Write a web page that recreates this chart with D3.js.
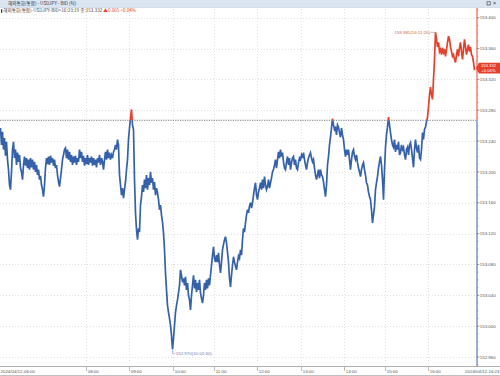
<!DOCTYPE html>
<html>
<head>
<meta charset="utf-8">
<script src="https://cdn.jsdelivr.net/npm/d3@7"></script>
<style>
body{margin:0;background:#fff}
svg{display:block;font-family:"Liberation Sans",Arial,sans-serif}
</style>
</head>
<body>
<svg width="500" height="376"></svg>
<script>
// USDJPY bid, one value per tick bucket (tick chart, 2024/04/12 06:00 - 16:23)
var prices = [
153.257,153.235,153.252,153.229,153.244,153.221,153.239,153.216,153.203,153.183,
153.177,153.200,153.229,153.239,153.218,153.229,153.209,153.225,153.213,153.222,
153.205,153.200,153.190,153.209,153.220,153.208,153.218,153.205,153.216,153.203,
153.218,153.206,153.216,153.203,153.213,153.200,153.209,153.196,153.203,153.190,
153.195,153.183,153.177,153.168,153.183,153.205,153.218,153.210,153.220,153.209,
153.221,153.212,153.218,153.208,153.216,153.205,153.209,153.196,153.187,153.181,
153.192,153.203,153.216,153.222,153.229,153.231,153.218,153.229,153.216,153.226,
153.213,153.222,153.209,153.220,153.212,153.221,153.209,153.218,153.213,153.229,
153.218,153.226,153.213,153.221,153.208,153.218,153.210,153.222,153.209,153.218,
153.212,153.220,153.208,153.218,153.209,153.216,153.206,153.218,153.212,153.222,
153.209,153.218,153.213,153.203,153.216,153.226,153.216,153.229,153.218,153.225,
153.216,153.222,153.218,153.226,153.229,153.235,153.229,153.242,153.235,153.196,
153.183,153.170,153.179,153.166,153.177,153.187,153.203,153.216,153.242,153.257,
153.270,153.281,153.261,153.255,153.190,153.147,153.125,153.112,153.127,153.122,
153.157,153.168,153.183,153.174,153.190,153.179,153.196,153.177,153.192,153.183,
153.200,153.186,153.192,153.177,153.187,153.170,153.179,153.173,153.164,153.151,
153.157,153.144,153.135,153.121,153.099,153.069,153.047,153.027,153.018,153.010,
153.001,152.988,152.970,152.984,153.001,153.018,153.027,153.034,153.043,153.053,
153.073,153.066,153.057,153.062,153.053,153.064,153.047,153.056,153.040,153.034,
153.021,153.040,153.053,153.066,153.049,153.060,153.044,153.056,153.047,153.060,
153.043,153.036,153.030,153.040,153.056,153.047,153.060,153.049,153.062,153.053,
153.066,153.079,153.092,153.103,153.088,153.083,153.092,153.083,153.095,153.079,
153.069,153.083,153.099,153.106,153.112,153.116,153.108,153.096,153.083,153.062,
153.051,153.066,153.079,153.090,153.083,153.078,153.073,153.083,153.091,153.088,
153.099,153.092,153.112,153.127,153.122,153.134,153.144,153.151,153.147,153.156,
153.160,153.153,153.160,153.170,153.179,153.186,153.170,153.164,153.174,153.179,
153.186,153.177,153.190,153.179,153.194,153.183,153.177,153.181,153.190,153.179,
153.186,153.192,153.200,153.203,153.209,153.216,153.205,153.216,153.226,153.218,
153.229,153.220,153.225,153.213,153.205,153.203,153.213,153.220,153.209,153.218,
153.203,153.212,153.218,153.220,153.209,153.216,153.205,153.203,153.212,153.218,
153.216,153.222,153.218,153.225,153.216,153.209,153.203,153.212,153.218,153.222,
153.225,153.218,153.213,153.216,153.205,153.196,153.190,153.196,153.203,153.192,
153.203,153.196,153.194,153.187,153.177,153.168,153.183,153.209,153.220,153.235,
153.245,153.257,153.269,153.261,153.255,153.257,153.248,153.261,153.258,153.251,
153.245,153.257,153.248,153.242,153.229,153.220,153.229,153.222,153.229,153.216,
153.203,153.216,153.226,153.229,153.220,153.216,153.222,153.212,153.205,153.200,
153.194,153.203,153.209,153.212,153.203,153.196,153.186,153.183,153.174,153.168,
153.164,153.151,153.134,153.144,153.155,153.177,153.186,153.194,153.205,153.213,
153.220,153.209,153.190,153.164,153.203,153.232,153.248,153.258,153.271,153.261,
153.251,153.242,153.235,153.232,153.242,153.226,153.235,153.229,153.239,153.222,
153.225,153.235,153.229,153.232,153.222,153.216,153.229,153.232,153.222,153.235,
153.238,153.229,153.218,153.206,153.229,153.242,153.231,153.225,153.235,153.218,
153.216,153.229,153.251,153.242,153.255,153.258,153.265,153.271,153.284,153.300,
153.310,153.300,153.294,153.320,153.346,153.381,153.372,153.362,153.368,153.356,
153.359,153.352,153.361,153.355,153.359,153.350,153.359,153.368,153.376,153.372,
153.362,153.356,153.350,153.352,153.346,153.342,153.352,153.359,153.350,153.361,
153.368,153.356,153.346,153.359,153.372,153.362,153.352,153.359,153.365,153.356,
153.362,153.352,153.350,153.342,153.332
];
var prevClose = 153.267;
var change = "+0.065";
var changePct = "+0.04%";
var yTicks = [152.96,153.00,153.04,153.08,153.12,153.16,153.20,153.24,153.28,153.32,153.36,153.40];
// tick index where each hour starts
var hourIdx = [0,85,128,172,213,256,300,343,385,428];
var hourLabels = ["2024/04/12-06:00","08:00","09:00","10:00","11:00","12:00","13:00","14:00","15:00","16:00"];
var endLabel = "2024/04/12-16:23";
var hiTime = "16:11:20", loTime = "10:02:30";

var svg = d3.select("svg");
var W = 500, H = 376;
var axisX = 477, plotTop = 8, plotBottom = 366;
var blue = "#3461aa", red = "#e4402c";

var x = d3.scaleLinear().domain([0, 474]).range([0.5, 474.5]);
var y = d3.scaleLinear().domain([152.96, 153.40]).range([357, 17.7]);
var fmt = d3.format(".3f");

// header bar
svg.append("rect").attr("x",0).attr("y",0).attr("width",W).attr("height",7)
   .attr("fill","#dbe5f1");
svg.append("line").attr("x1",0).attr("x2",W).attr("y1",7.5).attr("y2",7.5)
   .attr("stroke","#b9c7d9").attr("stroke-width",0.6);
svg.append("text").attr("x",8).attr("y",5.2)
   .style("font-family","'Noto Sans CJK KR',sans-serif").style("font-size","4.6px")
   .attr("fill","#333").text("해외통화(통합) - USDJPY - BID (틱)");
svg.append("rect").attr("x",487).attr("y",1.8).attr("width",3.2).attr("height",3.2)
   .attr("fill","none").attr("stroke","#333").attr("stroke-width",0.6);
svg.append("text").attr("x",493).attr("y",5.4).style("font-size","5.5px")
   .attr("fill","#333").text("×");

// grid
var grid = svg.append("g");
yTicks.forEach(function(t){
    grid.append("line").attr("x1",0).attr("x2",axisX)
        .attr("y1",Math.round(y(t))+0.5).attr("y2",Math.round(y(t))+0.5)
        .attr("stroke","#d3d3d3").attr("stroke-width",0.7).attr("stroke-dasharray","1,2");
});
hourIdx.slice(1).forEach(function(i){
    grid.append("line").attr("x1",Math.round(x(i))+0.5).attr("x2",Math.round(x(i))+0.5)
        .attr("y1",plotTop+1).attr("y2",plotBottom)
        .attr("stroke","#d3d3d3").attr("stroke-width",0.7).attr("stroke-dasharray","1,2");
});

// prev close dotted line
var yRef = y(prevClose);
svg.append("line").attr("x1",0).attr("x2",axisX).attr("y1",yRef).attr("y2",yRef)
   .attr("stroke","#555").attr("stroke-width",0.8).attr("stroke-dasharray","1.2,1.2");

// price line, red above prev close, blue below
var defs = svg.append("defs");
defs.append("clipPath").attr("id","above").append("rect")
    .attr("x",0).attr("y",0).attr("width",axisX).attr("height",yRef);
defs.append("clipPath").attr("id","below").append("rect")
    .attr("x",0).attr("y",yRef).attr("width",axisX).attr("height",plotBottom-yRef);

var line = d3.line().x(function(d,i){return x(i);}).y(function(d){return y(d);});
svg.append("path").datum(prices).attr("d",line).attr("fill","none")
   .attr("stroke",blue).attr("stroke-width",1.7).attr("clip-path","url(#below)");
svg.append("path").datum(prices).attr("d",line).attr("fill","none")
   .attr("stroke",red).attr("stroke-width",1.7).attr("clip-path","url(#above)");

// y axis (right)
svg.append("line").attr("x1",axisX).attr("x2",axisX).attr("y1",plotTop).attr("y2",yRef)
   .attr("stroke",red).attr("stroke-width",1);
svg.append("line").attr("x1",axisX).attr("x2",axisX).attr("y1",yRef).attr("y2",plotBottom)
   .attr("stroke",blue).attr("stroke-width",1);
var ya = svg.append("g");
d3.range(152.95, 153.41, 0.01).forEach(function(t){
    var yy = y(t);
    if (yy < plotTop || yy > plotBottom) return;
    ya.append("line").attr("x1",axisX).attr("x2",axisX+1.5).attr("y1",yy).attr("y2",yy)
      .attr("stroke","#888").attr("stroke-width",0.5);
});
yTicks.forEach(function(t){
    ya.append("line").attr("x1",axisX).attr("x2",axisX+2.5).attr("y1",y(t)).attr("y2",y(t))
      .attr("stroke","#666").attr("stroke-width",0.5);
    ya.append("text").attr("x",axisX+2.8).attr("y",y(t)+1.6)
      .style("font-size","4.4px").attr("fill","#555").text(fmt(t));
});

// current price box
var last = prices[prices.length-1];
var cy = y(last) - 2;
svg.append("path")
   .attr("d","M"+(axisX-1)+","+cy+" L"+(axisX+2)+","+(cy-5.3)+" L"+W+","+(cy-5.3)+
             " L"+W+","+(cy+5.3)+" L"+(axisX+2)+","+(cy+5.3)+" Z")
   .attr("fill",red);
svg.append("text").attr("x",488.5).attr("y",cy-0.8).attr("text-anchor","middle")
   .style("font-size","4.2px").attr("fill","#fff").text(fmt(last));
svg.append("text").attr("x",488.5).attr("y",cy+3.9).attr("text-anchor","middle")
   .style("font-size","4.2px").attr("fill","#fff").text(changePct);

// high / low markers
var hi = d3.maxIndex(prices), lo = d3.minIndex(prices);
svg.append("line").attr("x1",x(hi)-5).attr("x2",x(hi)).attr("y1",y(prices[hi])).attr("y2",y(prices[hi]))
   .attr("stroke","#b86a60").attr("stroke-width",0.5);
svg.append("text").attr("x",x(hi)-5.5).attr("y",y(prices[hi])+1.5).attr("text-anchor","end")
   .style("font-size","4.4px").attr("fill","#b8675c")
   .text(fmt(prices[hi])+"("+hiTime+")");
svg.append("path")
   .attr("d","M"+x(lo)+","+y(prices[lo])+" V"+(y(prices[lo])+4)+" H"+(x(lo)+3))
   .attr("fill","none").attr("stroke","#6a82aa").attr("stroke-width",0.5);
svg.append("text").attr("x",x(lo)+3.3).attr("y",y(prices[lo])+5.5)
   .style("font-size","4.4px").attr("fill","#6a82aa")
   .text(fmt(prices[lo])+"("+loTime+")");

// sub header
svg.append("rect").attr("x",1).attr("y",9.3).attr("width",1.2).attr("height",3.4).attr("fill","#222");
var sub = svg.append("text").attr("x",3.2).attr("y",12.4)
   .style("font-family","'Noto Sans CJK KR',sans-serif").style("font-size","4.6px");
sub.append("tspan").attr("fill","#444")
   .text("해외통화(통합)-USDJPY-BID>16:23:19 종:"+fmt(last)+" ");
sub.append("tspan").attr("fill",red).text("▲"+change.slice(1)+"  "+changePct);

// x axis (bottom)
svg.append("line").attr("x1",0).attr("x2",W).attr("y1",plotBottom+0.5).attr("y2",plotBottom+0.5)
   .attr("stroke","#9a9a9a").attr("stroke-width",0.8);
svg.append("line").attr("x1",0).attr("x2",W).attr("y1",375.5).attr("y2",375.5)
   .attr("stroke","#b0b0b0").attr("stroke-width",0.8);
hourIdx.forEach(function(i,k){
    var xx = Math.round(x(i))+0.5;
    if (k > 0) {
        svg.append("line").attr("x1",xx).attr("x2",xx).attr("y1",plotBottom+1).attr("y2",plotBottom+5)
           .attr("stroke","#777").attr("stroke-width",0.5);
    }
    svg.append("text").attr("x",k>0 ? xx+1.2 : 0.5).attr("y",372.8)
       .style("font-size","4.4px").attr("fill","#555").text(hourLabels[k]);
});
svg.append("text").attr("x",499.5).attr("y",372.8).attr("text-anchor","end")
   .style("font-size","4.4px").attr("fill","#555").text(endLabel);
</script>
</body>
</html>
